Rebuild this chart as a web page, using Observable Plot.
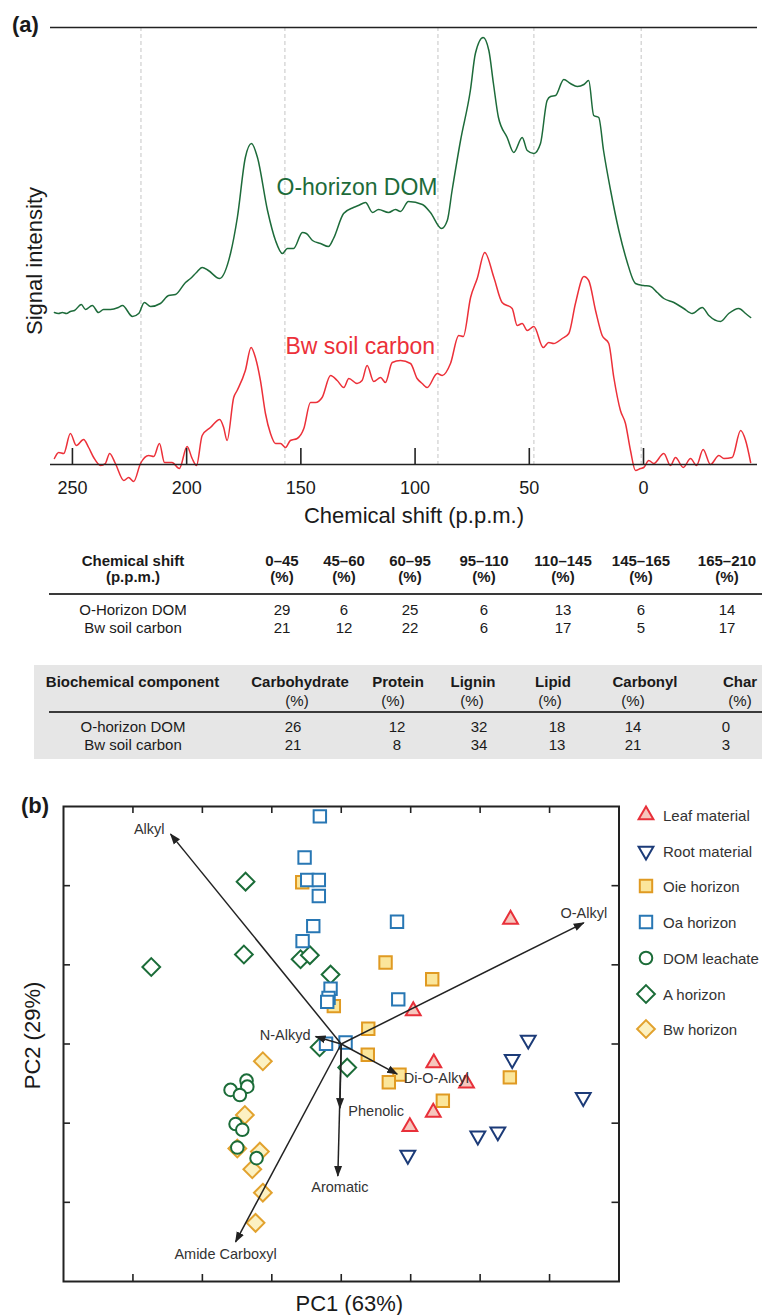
<!DOCTYPE html>
<html><head><meta charset="utf-8">
<script src="https://cdn.jsdelivr.net/npm/d3@7"></script>
<script src="https://cdn.jsdelivr.net/npm/@observablehq/plot@0.6"></script>
<style>
body{margin:0;background:#fff;font-family:"Liberation Sans",Arial,Helvetica,sans-serif;color:#1a1a1a;}
#page{position:relative;width:762px;height:1315px;overflow:hidden;}
.abs{position:absolute;white-space:nowrap;line-height:1;}
#page svg{position:absolute;left:0;}
</style></head><body><div id="page"></div>
<script>
// ---------------- Panel (a) data ----------------
const ppmTicks = [250, 200, 150, 100, 50, 0];
const regionEdges = [220, 157, 90, 48, 1];
const domPpm = [257.9,256.1,254.4,252.6,250.9,249.1,246.1,244.3,241.3,238.6,236.4,233.4,229.9,228.1,223.7,221.0,218.5,215.8,211.5,207.9,204.9,200.5,198.3,195.7,193.2,190.5,185.6,180.8,177.8,174.3,171.6,169.0,164.6,161.1,158.1,155.9,153.2,149.3,147.6,144.9,141.4,137.9,135.7,131.3,127.0,124.8,121.7,118.6,116.0,111.6,108.6,106.4,102.9,96.8,93.3,88.4,85.9,83.8,80.1,75.8,73.6,70.2,67.7,65.7,63.5,59.7,56.8,53.1,50.9,48.0,45.1,42.2,40.7,38.5,34.9,32.0,29.0,26.1,24.0,21.8,19.6,17.5,14.4,10.8,7.1,4.4,3.5,0,-3.1,-6.0,-8.9,-13.3,-17.6,-21.3,-25.7,-28.6,-33.7,-37.3,-41.7,-44.7,-46.9];
const domSignal = [152,151,152,151,153,154,160,155,159,152,155,155,157,159,148,151,162,158,161,169,170,182,186,192,197,194,186,211,247,307,321,307,254,224,211,216,216,232,231,224,221,218,226,251,257,259,262,252,255,252,255,253,263,260,252,236,244,274,324,374,411,427,414,381,347,327,312,327,314,311,321,364,368,369,385,381,378,380,384,349,347,314,274,234,202,184,181,179,178,172,166,162,156,151,157,149,143,151,156,151,147];
const bwPpm = [257.9,256.0,253.8,250.9,248.3,245.1,242.9,240.7,237.7,235.6,233.7,231.2,227.5,225.4,223.2,220.2,216.6,214.4,211.9,209.7,206.4,203.2,199.8,197.6,195.7,193.2,189.6,185.5,183.8,182.3,179.4,177.9,174.3,171.8,169.9,167.7,165.5,163.3,161.1,158.9,156.7,154.6,151.6,148.7,145.8,143.6,140.7,137.0,134.1,131.2,129.0,125.4,123.2,121.0,118.1,115.1,113.0,110.0,106.4,102.0,99.1,96.9,94.7,90.3,88.1,84.5,80.9,78.9,75.7,72.8,69.5,65.5,61.9,57.5,55.3,53.1,50.9,48.0,43.9,41.5,39.3,35.6,32.7,29.8,26.1,24.0,21.0,18.1,15.2,13.0,10.1,7.9,5.7,3.5,1.3,-0.1,-2.3,-4.5,-8.9,-11.8,-14.0,-17.4,-20.6,-23.2,-26.1,-29.3,-33.0,-35.2,-38.8,-42.5,-44.7,-46.9];
const bwSignal = [6,12,11,31,19,25,17,7,-1,1,11,1,-16,-13,-17,1,9,8,21,2,2,-4,18,6,-1,29,37,45,37,24,67,74,94,117,107,84,51,31,21,21,17,24,26,36,62,62,67,89,84,77,86,81,84,99,83,87,82,102,104,101,86,81,77,91,89,101,129,128,167,186,212,187,162,156,139,141,134,138,117,122,121,126,131,161,188,184,154,129,121,87,54,41,14,-6,-4,-3,4,1,11,-1,7,-3,6,-1,15,0,9,6,7,34,24,2];
const seriesNames = ["O-horizon DOM", "Bw soil carbon"];

// ---------------- Tables ----------------
const shiftHeaders = ["0–45","45–60","60–95","95–110","110–145","145–165","165–210"];
const shiftRowNames = ["O-Horizon DOM","Bw soil carbon"];
const shiftDOM = [29,6,25,6,13,6,14];
const shiftBw = [21,12,22,6,17,5,17];
const compHeaders = ["Carbohydrate","Protein","Lignin","Lipid","Carbonyl","Char"];
const compRowNames = ["O-horizon DOM","Bw soil carbon"];
const compDOM = [26,12,32,18,14,0];
const compBw = [21,8,34,13,21,3];

// ---------------- Panel (b) data ----------------
const pc1Ticks = [-3,-2,-1,0,1,2,3];
const pc2Ticks = [-2,-1,0,1,2];
const groupNames = ["Leaf material","Root material","Oie horizon","Oa horizon","DOM leachate","A horizon","Bw horizon"];
const leafPC1 = [1.037,2.438,1.333,1.804,1.325,0.988];
const leafPC2 = [0.418,1.574,-0.241,-0.497,-0.864,-1.046];
const rootPC1 = [2.693,2.462,3.485,1.967,2.255,0.959];
const rootPC2 = [0.051,-0.194,-0.674,-1.160,-1.109,-1.404];
const oiePC1 = [-0.562,0.638,1.310,-0.107,0.389,0.382,0.839,0.685,1.463,2.428];
const oiePC2 = [2.043,1.029,0.818,0.479,0.193,-0.136,-0.387,-0.484,-0.716,-0.421];
const oaPC1 = [-0.308,-0.528,-0.490,-0.323,-0.323,-0.403,-0.557,0.803,-0.154,-0.183,-0.202,0.821,0.062,-0.219];
const oaPC2 = [2.875,2.355,2.072,2.072,1.869,1.489,1.299,1.544,0.697,0.583,0.532,0.564,0.019,0.003];
const domPC1 = [-1.364,-1.353,-1.594,-1.460,-1.522,-1.425,-1.497,-1.220];
const domPC2 = [-0.463,-0.539,-0.580,-0.644,-1.011,-1.084,-1.308,-1.442];
const aPC1 = [-1.378,-1.402,-2.736,-0.586,-0.452,-0.154,-0.312,0.086];
const aPC2 = [2.051,1.131,0.973,1.071,1.122,0.877,-0.041,-0.298];
const bwhPC1 = [-1.129,-1.388,-1.497,-1.172,-1.281,-1.129,-1.234];
const bwhPC2 = [-0.218,-0.897,-1.321,-1.359,-1.582,-1.878,-2.259];
const loadingNames = ["Alkyl","O-Alkyl","N-Alkyd","Di-O-Alkyl","Phenolic","Aromatic","Amide Carboxyl"];
const loadingPC1 = [-2.458,3.493,-0.370,0.806,-0.020,-0.049,-1.522];
const loadingPC2 = [2.651,1.531,0.095,-0.380,-0.811,-1.667,-2.499];

// ---------------- Build ----------------
const FONT = "'Liberation Sans', Arial, Helvetica, sans-serif";
const page = d3.select("#page");
function label(x, y, s, o = {}) {
  return page.append("div").attr("class", "abs").text(s)
    .style("left", x + "px").style("top", y + "px")
    .style("font-size", (o.size || 15) + "px")
    .style("font-weight", o.bold ? "bold" : "normal")
    .style("color", o.color || "#1a1a1a")
    .style("transform", o.anchor === "start" ? "translate(0,-50%)" : "translate(-50%,-50%)");
}

const green = "#1d6b3a", red = "#ec3039";
const spectra = [
  domPpm.map((p, i) => ({ppm: p, signal: domSignal[i]})),
  bwPpm.map((p, i) => ({ppm: p, signal: bwSignal[i]}))
];
const mid = {textAnchor: "middle", lineAnchor: "middle"};

const plotA = Plot.plot({
  width: 762, height: 535,
  marginLeft: 50, marginRight: 5, marginTop: 27, marginBottom: 71,
  x: {domain: [259.6, -49.9], axis: null},
  y: {domain: [0, 437], axis: null},
  style: {fontFamily: FONT, color: "#1a1a1a", background: "transparent", overflow: "visible"},
  marks: [
    Plot.ruleX(regionEdges, {stroke: "#d6d6d6", strokeWidth: 1.4, strokeDasharray: "4,3"}),
    Plot.line(spectra[0], {x: "ppm", y: "signal", stroke: green, strokeWidth: 1.5, curve: "monotone-x"}),
    Plot.line(spectra[1], {x: "ppm", y: "signal", stroke: red, strokeWidth: 1.5, curve: "monotone-x"}),
    Plot.ruleY([437], {stroke: "#222", strokeWidth: 1.7}),
    Plot.ruleY([0], {stroke: "#222", strokeWidth: 1.7}),
    Plot.ruleX(ppmTicks, {stroke: "#222", strokeWidth: 1.6, insetTop: 421}),
    Plot.text(ppmTicks, {x: d => d, text: d => String(d), frameAnchor: "bottom", dy: 23.5, fontSize: 18, fill: "#1a1a1a", ...mid}),
    Plot.text(["Chemical shift (p.p.m.)"], {text: d => d, frameAnchor: "bottom", dx: 10, dy: 51, fontSize: 22, fill: "#1a1a1a", ...mid}),
    Plot.text(["Signal intensity"], {text: d => d, frameAnchor: "left", dx: -16, dy: 15, rotate: -90, fontSize: 22, fill: "#1a1a1a", ...mid}),
    Plot.text([seriesNames[0]], {text: d => d, frameAnchor: "top-left", dx: 226, dy: 160, textAnchor: "start", lineAnchor: "middle", fontSize: 23, fill: green}),
    Plot.text([seriesNames[1]], {text: d => d, frameAnchor: "top-left", dx: 235, dy: 319.5, textAnchor: "start", lineAnchor: "middle", fontSize: 23, fill: red})
  ]
});
d3.select(plotA).style("top", "0px");
page.node().appendChild(plotA);
label(12, 25, "(a)", {size: 22, bold: true, anchor: "start"});

// Table 1
const t1Cols = [282, 344, 410, 484, 563, 641, 727];
label(133, 560, "Chemical shift", {bold: true});
label(133, 576, "(p.p.m.)", {bold: true});
shiftHeaders.forEach((h, i) => { label(t1Cols[i], 560, h, {bold: true}); label(t1Cols[i], 576, "(%)", {bold: true}); });
page.append("div").attr("class", "abs").style("left", "49px").style("top", "592.5px").style("width", "713px").style("height", "2.5px").style("background", "#3a3a3a");
label(133, 609, shiftRowNames[0]); label(133, 627, shiftRowNames[1]);
shiftDOM.forEach((v, i) => label(t1Cols[i], 609, String(v)));
shiftBw.forEach((v, i) => label(t1Cols[i], 627, String(v)));

// Table 2
page.append("div").attr("class", "abs").style("left", "34px").style("top", "665px").style("width", "728px").style("height", "94px").style("background", "#e6e6e6");
const t2Head = [300, 398, 473, 553, 645, 740];
const t2Pct = [297, 393, 472, 550, 633, 740];
const t2Val = [293, 397, 479, 557, 633, 726];
label(132.5, 681, "Biochemical component", {bold: true});
compHeaders.forEach((h, i) => { label(t2Head[i], 681, h, {bold: true}); label(t2Pct[i], 700, "(%)"); });
page.append("div").attr("class", "abs").style("left", "49px").style("top", "710.5px").style("width", "713px").style("height", "2.5px").style("background", "#3a3a3a");
label(133, 725.5, compRowNames[0]); label(133, 744, compRowNames[1]);
compDOM.forEach((v, i) => label(t2Val[i], 725.5, String(v)));
compBw.forEach((v, i) => label(t2Val[i], 744, String(v)));

// Panel (b)
const toRows = (a, b) => a.map((v, i) => ({pc1: v, pc2: b[i]}));
const downTriangle = {
  draw(ctx, size) {
    const y = Math.sqrt(size / (3 * Math.sqrt(3)));
    ctx.moveTo(0, 2 * y); ctx.lineTo(-Math.sqrt(3) * y, -y); ctx.lineTo(Math.sqrt(3) * y, -y); ctx.closePath();
  }
};
const styles = {
  "Leaf material": {symbol: "triangle", r: 5.5, stroke: "#e8303a", fill: "#f6c6bd"},
  "Root material": {symbol: downTriangle, r: 5.5, stroke: "#1c3b78", fill: "white"},
  "Oie horizon": {symbol: "square", r: 7.0, stroke: "#e09a22", fill: "#fbe69b"},
  "Oa horizon": {symbol: "square", r: 7.0, stroke: "#2877b4", fill: "white"},
  "DOM leachate": {symbol: "circle", r: 6.3, stroke: "#1b6c38", fill: "white"},
  "A horizon": {symbol: "diamond2", r: 8.0, stroke: "#1b6c38", fill: "white"},
  "Bw horizon": {symbol: "diamond2", r: 8.0, stroke: "#e2a22e", fill: "#fcf1c2"}
};
const groups = {
  "Leaf material": toRows(leafPC1, leafPC2),
  "Root material": toRows(rootPC1, rootPC2),
  "Oie horizon": toRows(oiePC1, oiePC2),
  "Oa horizon": toRows(oaPC1, oaPC2),
  "DOM leachate": toRows(domPC1, domPC2),
  "A horizon": toRows(aPC1, aPC2),
  "Bw horizon": toRows(bwhPC1, bwhPC2)
};
const drawOrder = ["Bw horizon", "DOM leachate", "A horizon", "Oie horizon", "Oa horizon", "Leaf material", "Root material"];
const loadings = loadingNames.map((n, i) => ({name: n, pc1: loadingPC1[i], pc2: loadingPC2[i]}));
const labelLayout = [
  {anchor: "end", dx: -6, dy: -5},
  {anchor: "middle", dx: 0, dy: -9.5},
  {anchor: "end", dx: -5, dy: -1},
  {anchor: "start", dx: 6.5, dy: 4.5},
  {anchor: "start", dx: 8.5, dy: 3},
  {anchor: "middle", dx: 2, dy: 11},
  {anchor: "middle", dx: -10, dy: 13}
];
const plotB = Plot.plot({
  width: 762, height: 545,
  marginLeft: 63, marginRight: 143.5, marginTop: 36, marginBottom: 34,
  x: {domain: [-4, 4], axis: null},
  y: {domain: [-3, 3], axis: null},
  style: {fontFamily: FONT, color: "#1a1a1a", background: "transparent", overflow: "visible"},
  marks: [
    Plot.ruleX(pc1Ticks, {stroke: "#222", strokeWidth: 1.6, insetTop: 468}),
    Plot.ruleX(pc1Ticks, {stroke: "#222", strokeWidth: 1.6, insetBottom: 468}),
    Plot.ruleY(pc2Ticks, {stroke: "#222", strokeWidth: 1.6, insetRight: 548.5}),
    Plot.ruleY(pc2Ticks, {stroke: "#222", strokeWidth: 1.6, insetLeft: 548.5}),
    ...drawOrder.map(g => Plot.dot(groups[g], {x: "pc1", y: "pc2", ...styles[g], strokeWidth: 2})),
    Plot.link(loadings, {x1: 0, y1: 0, x2: "pc1", y2: "pc2", stroke: "#222", strokeWidth: 1.5}),
    ...loadings.map((d, i) => Plot.text([d], {x: "pc1", y: "pc2", text: "name", textAnchor: labelLayout[i].anchor, lineAnchor: "middle", dx: labelLayout[i].dx, dy: labelLayout[i].dy, fontSize: 14.5, fill: "#333"})),
    Plot.frame({stroke: "#222", strokeWidth: 2}),
    Plot.text(["PC1 (63%)"], {text: d => d, frameAnchor: "bottom", dx: 8, dy: 22, fontSize: 22, fill: "#1a1a1a", ...mid}),
    Plot.text(["PC2 (29%)"], {text: d => d, frameAnchor: "left", dx: -31, dy: -8.5, rotate: -90, fontSize: 22, fill: "#1a1a1a", ...mid})
  ]
});
// filled arrowheads
const sb = d3.select(plotB);
const defs = sb.insert("defs", ":first-child");
defs.append("marker").attr("id", "ahead").attr("viewBox", "0 -5 11 10").attr("refX", 10).attr("refY", 0)
  .attr("markerWidth", 11).attr("markerHeight", 10).attr("markerUnits", "userSpaceOnUse").attr("orient", "auto")
  .append("path").attr("d", "M0,-4L11,0L0,4Z").attr("fill", "#222");
sb.selectAll('g[aria-label="link"] path').attr("marker-end", "url(#ahead)");
sb.style("top", "770px");
page.node().appendChild(plotB);
label(21, 805.5, "(b)", {size: 22, bold: true, anchor: "start"});

// Legend
const legendY = [815, 850.7, 886.4, 922.1, 957.8, 993.5, 1029.2];
const symbolMap = {triangle: d3.symbolTriangle, square: d3.symbolSquare, circle: d3.symbolCircle, diamond2: d3.symbolDiamond2};
groupNames.forEach((g, i) => {
  const st = styles[g];
  const svg = page.append("svg").attr("width", 24).attr("height", 24)
    .style("position", "absolute").style("left", (645.7 - 12) + "px").style("top", (legendY[i] - 12) + "px");
  const type = typeof st.symbol === "string" ? symbolMap[st.symbol] : st.symbol;
  svg.append("path").attr("transform", "translate(12,12)")
    .attr("d", d3.symbol(type, Math.PI * st.r * st.r)())
    .attr("fill", st.fill).attr("stroke", st.stroke).attr("stroke-width", 2);
  label(663, legendY[i], g, {size: 15, color: "#333", anchor: "start"});
});
</script></body></html>
